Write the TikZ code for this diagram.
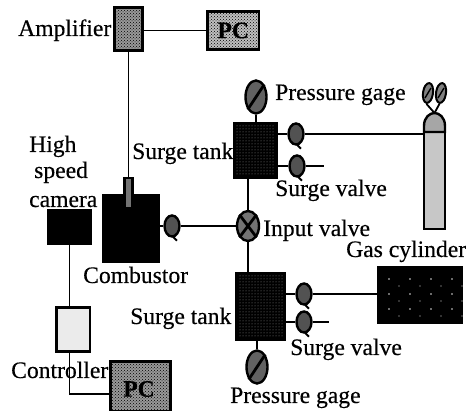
\documentclass[tikz,border=0pt]{standalone}
\usepackage{fontspec}
\setmainfont{Liberation Serif}[RawFeature={embolden=0.35}]
\usetikzlibrary{shapes.geometric,patterns}
\tikzset{
  lbl/.style={anchor=base west,inner sep=0pt,font=\fontsize{23.6}{26}\selectfont,text=black},
  conn/.style={line width=1.8pt,black},
  dark/.style={preaction={fill=black},pattern=dots,pattern color=black!45},
  mid/.style={preaction={fill=black!40},pattern=crosshatch dots,pattern color=black},
  midlight/.style={preaction={fill=black!25},pattern=crosshatch dots,pattern color=black},
  light/.style={fill=black!8},
  valve/.style={ellipse,draw=black,line width=2.4pt,fill=black!68,inner sep=0pt,minimum width=15pt,minimum height=21pt},
  gauge/.style={ellipse,draw=black,line width=2.4pt,fill=black!62,inner sep=0pt,minimum width=21pt,minimum height=33pt},
  slash/.style={line width=2.8pt,black},
  pctext/.style={font=\fontsize{23.6}{26}\selectfont\bfseries,text=black}
}
\newcommand{\boxnode}[6]{% name, x1,y1,x2,y2, style
  \node[draw=black,line width=2.2pt,#6,inner sep=0pt,outer sep=0pt,
        minimum width=#4pt-#2pt,minimum height=#5pt-#3pt] (#1) at ({(#2+#4)/2},{(#3+#5)/2}) {};}
\begin{document}
\begin{tikzpicture}[x=1pt,y=-1pt]
\useasboundingbox (0,0) rectangle (472,411);
\boxnode{amp}{114.5}{7.5}{142.5}{50.5}{mid}
\boxnode{pctop}{207.5}{11.5}{259}{49.5}{midlight}
\node[pctext] at (pctop.center) {PC};
\boxnode{comb}{103.5}{195.5}{158.5}{261.5}{fill=black}
\boxnode{probe}{124.5}{178}{132.5}{208}{fill=black!55}
\boxnode{cam}{48.5}{210.5}{90.5}{243.5}{fill=black}
\boxnode{ctrl}{56.5}{307.5}{90}{351.5}{light}
\boxnode{pcbot}{110.5}{361.5}{170.5}{411}{mid}
\node[pctext] at (139,389) {PC};
\boxnode{tanka}{234.5}{123.5}{276.5}{177.5}{dark}
\boxnode{tankb}{236.5}{273.5}{284.5}{339.5}{dark}
\boxnode{gas}{378}{267}{462}{323}{fill=black}
\foreach \x in {0,...,3} \foreach \y in {0,1,2}
  \fill[white!85!black] ({389+\x*21},{279+\y*15}) circle (0.9pt) ({399+\x*21},{286+\y*15}) circle (0.7pt);
% gauges and valves
\node[gauge] (ga) at (256,97) {};
\node[gauge] (gb) at (257,367) {};
\node[valve] (va1) at (296,134) {};
\node[valve] (va2) at (297,166) {};
\node[valve] (vb1) at (304,294) {};
\node[valve] (vb2) at (304,322) {};
\node[valve] (vc) at (172,226) {};
\node[ellipse,draw=black,line width=2.4pt,fill=black!55,inner sep=0pt,minimum width=22pt,minimum height=30pt] (vi) at (248,226) {};
\coordinate (outa) at (324,166);
\coordinate (outb) at (329,322);
% cylinder
\path[draw=black,line width=2.4pt,fill=black!22] (424,132) -- (424,229) -- (445,229) -- (445,132) -- cycle;
\path[draw=black,line width=2.4pt,fill=black!35] (424,132) -- (424,126) .. controls (424,117) and (430,113) .. (434.5,113) .. controls (439,113) and (445,117) .. (445,126) -- (445,132) -- cycle;
\coordinate (cyl) at (424,134);
\coordinate (cyltop) at (434.5,113);
\node[ellipse,draw=black,line width=2pt,fill=black!50,inner sep=0pt,minimum width=10pt,minimum height=20pt,rotate=-8] (c1) at (428,93) {};
\node[ellipse,draw=black,line width=2pt,fill=black!50,inner sep=0pt,minimum width=10pt,minimum height=20pt,rotate=-8] (c2) at (441,93) {};
\draw[conn] (c1.south) -- (cyltop);
\draw[conn] (c2.south) -- (cyltop);
\draw[line width=1.4pt] (425,98) -- (431,88) (438,98) -- (444,88);
% connectors
\coordinate (camout) at (69.5,243.5);
\coordinate (ctrlin) at (69.5,307.5);
\coordinate (ctrlout) at (69.5,351.5);
\coordinate (bend) at (69.5,394);
\draw[conn] (amp.east |- pctop) -- (pctop.west);
\draw[conn] (amp.south) -- (probe.north -| amp.south);
\draw[conn] (comb.east |- vc) -- (vc.west);
\draw[conn] (vc.east) -- (vi.west);
\draw[conn] (vi.north) -- (tanka.south -| vi.north);
\draw[conn] (vi.south) -- (tankb.north -| vi.south);
\draw[conn] (ga.south) -- (tanka.north -| ga.south);
\draw[conn] (tankb.south -| gb.north) -- (gb.north);
\draw[conn] (tanka.east |- va1) -- (va1.west);
\draw[conn] (va1.east) -- (cyl);
\draw[conn] (tanka.east |- va2) -- (va2.west);
\draw[conn] (va2.east) -- (outa);
\draw[conn] (tankb.east |- vb1) -- (vb1.west);
\draw[conn] (vb1.east) -- (gas.west |- vb1);
\draw[conn] (tankb.east |- vb2) -- (vb2.west);
\draw[conn] (vb2.east) -- (outb);
\draw[conn] (camout) -- (ctrlin);
\draw[conn] (ctrlout) -- (bend) -- (pcbot.west |- bend);
% valve marks
\foreach \v in {va1,va2,vb1,vb2,vc} {
  \draw[line width=2pt] (\v.south) ++(1,-1) -- ++(4,4);
}
\draw[slash] (vi.north west) -- (vi.south east) (vi.north east) -- (vi.south west);
\draw[slash] (ga.south west) -- (ga.north east);
\draw[slash] (gb.south west) -- (gb.north east);
% labels
\node[lbl] at (18,36) {Amplifier};
\node[lbl] at (275,100) {Pressure gage};
\node[lbl] at (132,159) {Surge tank};
\node[lbl] at (29,152) {High};
\node[lbl] at (34,178) {speed};
\node[lbl] at (29,207) {camera};
\node[lbl] at (275,196) {Surge valve};
\node[lbl] at (263,236) {Input valve};
\node[lbl] at (346,257) {Gas cylinder};
\node[lbl] at (83,283) {Combustor};
\node[lbl] at (130,324) {Surge tank};
\node[lbl] at (290,355) {Surge valve};
\node[lbl] at (11,378) {Controller};
\node[lbl] at (230,403) {Pressure gage};
\end{tikzpicture}
\end{document}
